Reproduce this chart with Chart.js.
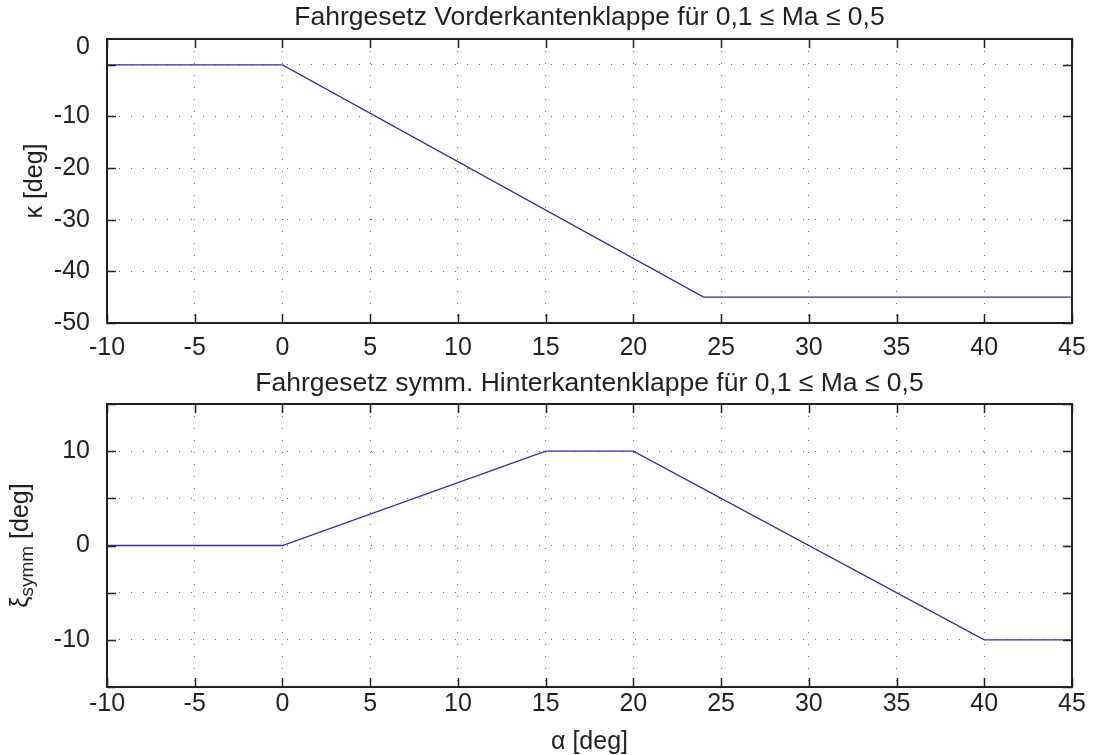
<!DOCTYPE html>
<html>
<head>
<meta charset="utf-8">
<script src="https://cdn.jsdelivr.net/npm/chart.js@4.4.1/dist/chart.umd.min.js"></script>
<style>
    html, body { margin: 0; padding: 0; background: #fff; }
    #wrap { position: relative; width: 1096px; height: 755px; }
    .box { position: absolute; left: 0; width: 1096px; }
</style>
</head>
<body>
<div id="wrap">
    <div class="box" style="top:0;height:360px"><canvas id="kappaChart"></canvas></div>
    <div class="box" style="top:360px;height:395px"><canvas id="xiChart"></canvas></div>
</div>
<script>
// Breakpoints of the control laws (alpha in deg)
const alphaKappa = [-10, 0, 24, 45];
const kappa = [0, 0, -45, -45];
const alphaXi = [-10, 0, 15, 20, 40, 45];
const xiSymm = [0, 0, 10, 10, -10, -10];

// Ticks
const alphaTicks = [-10, -5, 0, 5, 10, 15, 20, 25, 30, 35, 40, 45];
const kappaTicks = [-50, -40, -30, -20, -10, 0];
const kappaZeroLabelAt = 3.5;   // the "0" label sits a bit above its grid line in the original
const xiTicks = [-15, -10, -5, 0, 5, 10, 15];
const xiLabelled = [-10, 0, 10];

const FONT = '"Liberation Sans", Arial, Helvetica, sans-serif';
const INK = '#231f20';
const GRID = '#707070';
const LINE = '#2b3398';
const TICK_SIZE = 25;
const TITLE_SIZE = 26.5;

// frame, inward tick marks and axis titles drawn on top
const framePlugin = {
    id: 'frame',
    afterDraw(chart, args, opts) {
        const { ctx, chartArea: a, scales: { x, y } } = chart;
        ctx.save();
        ctx.strokeStyle = INK;
        ctx.lineWidth = 2;
        ctx.strokeRect(a.left, a.top, a.right - a.left, a.bottom - a.top);

        ctx.lineWidth = 1.5;
        ctx.beginPath();
        x.ticks.forEach(t => {
            const px = Math.round(x.getPixelForValue(t.value)) + 0.5;
            ctx.moveTo(px, a.bottom); ctx.lineTo(px, a.bottom - 9);
            ctx.moveTo(px, a.top); ctx.lineTo(px, a.top + 9);
        });
        y.ticks.forEach(t => {
            if (t.value === kappaZeroLabelAt) return;
            const py = Math.round(y.getPixelForValue(t.value)) + 0.5;
            ctx.moveTo(a.left, py); ctx.lineTo(a.left + 9, py);
            ctx.moveTo(a.right, py); ctx.lineTo(a.right - 9, py);
        });
        ctx.stroke();

        // y title, rotated, with optional subscript
        ctx.fillStyle = INK;
        ctx.textBaseline = 'middle';
        ctx.textAlign = 'left';
        const main = opts.ySize + 'px ' + FONT;
        const small = Math.round(opts.ySize * 0.75) + 'px ' + FONT;
        ctx.font = main;
        const w1 = ctx.measureText(opts.yMain).width;
        const w3 = ctx.measureText(opts.yRest).width;
        ctx.font = small;
        const w2 = opts.ySub ? ctx.measureText(opts.ySub).width : 0;
        const total = w1 + w2 + w3;
        ctx.translate(opts.yTitleX, (a.top + a.bottom) / 2);
        ctx.rotate(-Math.PI / 2);
        let cx = -total / 2;
        ctx.font = main;
        ctx.fillText(opts.yMain, cx, 0);
        cx += w1;
        if (opts.ySub) {
            ctx.font = small;
            ctx.fillText(opts.ySub, cx, opts.ySize * 0.28);
            cx += w2;
        }
        ctx.font = main;
        ctx.fillText(opts.yRest, cx, 0);
        ctx.restore();

        if (opts.xTitle) {
            ctx.save();
            ctx.fillStyle = INK;
            ctx.font = opts.ySize + 'px ' + FONT;
            ctx.textAlign = 'center';
            ctx.textBaseline = 'middle';
            ctx.fillText(opts.xTitle, (a.left + a.right) / 2, opts.xTitleY);
            ctx.restore();
        }
    }
};

function makeChart(id, xs, ys, cfg) {
    const ctx = document.getElementById(id).getContext('2d');
    return new Chart(ctx, {
        type: 'line',
        data: {
            datasets: [{
                data: xs.map((v, i) => ({ x: v, y: ys[i] })),
                borderColor: LINE,
                borderWidth: 1.3,
                pointRadius: 0,
                tension: 0,
                fill: false
            }]
        },
        options: {
            responsive: true,
            maintainAspectRatio: false,
            animation: false,
            layout: { padding: { left: 0, right: 24, top: 0, bottom: 0 } },
            plugins: {
                legend: { display: false },
                tooltip: { enabled: false },
                title: {
                    display: true,
                    fullSize: false,
                    text: cfg.title,
                    color: INK,
                    font: { family: FONT, size: TITLE_SIZE, weight: 'normal', lineHeight: 1 },
                    padding: cfg.titlePad
                },
                frame: cfg.frame
            },
            scales: {
                x: {
                    type: 'linear',
                    min: -10,
                    max: 45,
                    afterBuildTicks: s => { s.ticks = alphaTicks.map(v => ({ value: v })); },
                    afterFit: s => { s.height = cfg.xHeight; },
                    grid: { color: GRID, lineWidth: 1, drawTicks: false },
                    border: { display: false, dash: [1, 11] },
                    ticks: {
                        padding: cfg.xPad,
                        color: INK,
                        autoSkip: false,
                        maxRotation: 0,
                        font: { family: FONT, size: TICK_SIZE },
                        callback: v => String(v)
                    }
                },
                y: {
                    type: 'linear',
                    min: cfg.yMin,
                    max: cfg.yMax,
                    afterBuildTicks: s => { s.ticks = cfg.yTicks.map(v => ({ value: v })); },
                    afterFit: s => { s.width = 107; },
                    grid: {
                        color: c => (c.tick && c.tick.value === kappaZeroLabelAt) ? 'rgba(0,0,0,0)' : GRID,
                        lineWidth: 1,
                        drawTicks: false
                    },
                    border: { display: false, dash: [1, 11] },
                    ticks: {
                        padding: 17,
                        color: INK,
                        autoSkip: false,
                        font: { family: FONT, size: TICK_SIZE },
                        callback: cfg.yLabel
                    }
                }
            }
        },
        plugins: [framePlugin]
    });
}

makeChart('kappaChart', alphaKappa, kappa, {
    title: 'Fahrgesetz Vorderkantenklappe für 0,1 ≤ Ma ≤ 0,5',
    titlePad: { top: 4, bottom: 8.5 },
    xHeight: 37,
    xPad: 10,
    yMin: -50,
    yMax: 5,
    yTicks: kappaTicks.concat([kappaZeroLabelAt]),
    yLabel: v => v === kappaZeroLabelAt ? '0' : (v === 0 ? '' : String(v)),
    frame: { yMain: 'κ', ySub: '', yRest: ' [deg]', ySize: 25, yTitleX: 35 }
});

makeChart('xiChart', alphaXi, xiSymm, {
    title: 'Fahrgesetz symm. Hinterkantenklappe für 0,1 ≤ Ma ≤ 0,5',
    titlePad: { top: 10, bottom: 7.5 },
    xHeight: 68,
    xPad: 2,
    yMin: -15,
    yMax: 15,
    yTicks: xiTicks,
    yLabel: v => xiLabelled.includes(v) ? String(v) : '',
    frame: { yMain: 'ξ', ySub: 'symm', yRest: ' [deg]', ySize: 25, yTitleX: 21, xTitle: 'α [deg]', xTitleY: 382 }
});
</script>
</body>
</html>
